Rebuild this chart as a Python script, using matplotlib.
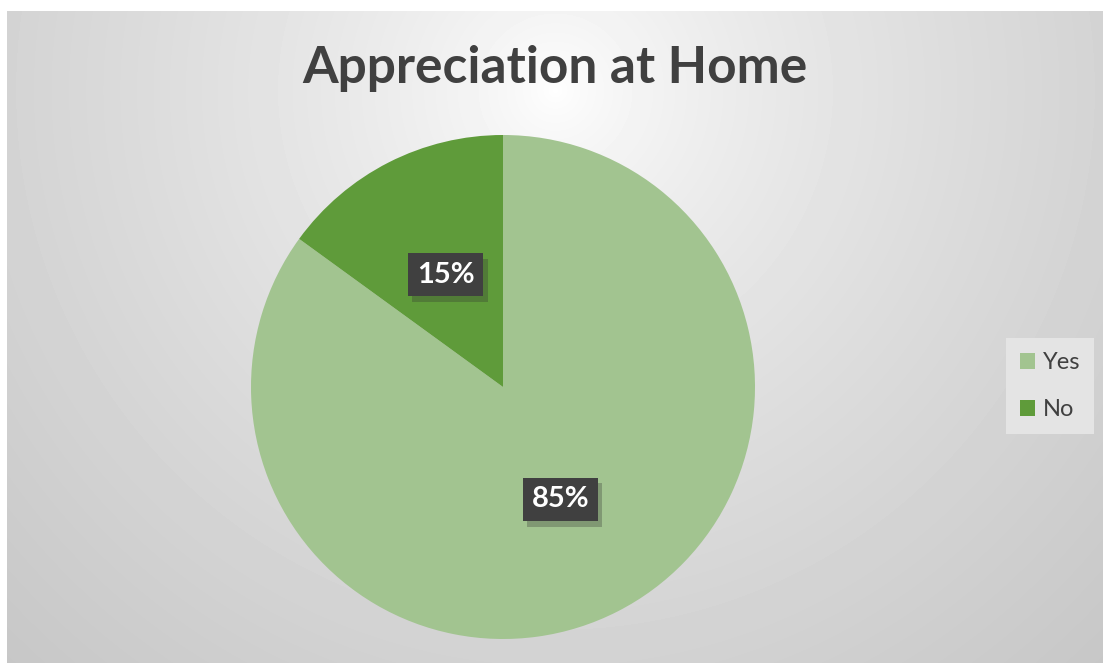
import numpy as np
import matplotlib
matplotlib.use("Agg")
import matplotlib.pyplot as plt
import matplotlib.patheffects as pe
from matplotlib.patches import Patch

labels = ["Yes", "No"]
shares = [85, 15]
colors = ["#A2C490", "#5F9B3A"]
title = "Appreciation at Home"

W, H = 1103, 663
fig = plt.figure(figsize=(W / 100, H / 100), dpi=100)
fig.patch.set_facecolor("white")

# soft radial grey background, white near the title
bg = fig.add_axes([7 / W, 0, (W - 7) / W, (H - 11) / H])
bg.set_axis_off()
yy, xx = np.mgrid[11:H, 7:W]
d = np.hypot(xx - 555, yy - 90) / 793.0
shade = 1.0 - 0.22 * d ** 0.7
bg.imshow(shade, cmap="gray", vmin=0, vmax=1, aspect="auto",
          extent=[0, 1, 0, 1], origin="upper")
bg.set_xlim(0, 1)
bg.set_ylim(0, 1)

cx, cy, r = 503, 387, 252
ax = fig.add_axes([(cx - r) / W, (H - cy - r) / H, 2 * r / W, 2 * r / H])
wedges, texts, autotexts = ax.pie(
    shares, colors=colors, startangle=90, counterclock=False,
    autopct="%d%%", pctdistance=0.5, radius=1,
    wedgeprops=dict(linewidth=0),
    textprops=dict(color="white", fontsize=21, fontweight="bold", family="Lato"),
)
ax.set_xlim(-1, 1)
ax.set_ylim(-1, 1)
for t in autotexts:
    t.set_bbox(dict(boxstyle="square,pad=0.3", facecolor="#404040", edgecolor="none"))
    t.get_bbox_patch().set_path_effects(
        [pe.SimplePatchShadow(offset=(3, -4), shadow_rgbFace="#333333", alpha=0.3),
         pe.Normal()])

fig.text(555 / W, 1 - 68 / H, title, ha="center", va="center",
         fontsize=37, fontweight="bold", color="#404040", family="Lato")

handles = [Patch(facecolor=c, edgecolor="none") for c in colors]
leg = fig.legend(handles, labels, loc="center", bbox_to_anchor=(1050 / W, 1 - 386 / H),
                 frameon=True, fancybox=False, facecolor="#E4E4E4", edgecolor="none",
                 framealpha=1, handlelength=0.65, handleheight=0.65, handletextpad=0.3,
                 labelspacing=1.1, borderpad=0.6,
                 prop=dict(family="Lato", size=17))
for t in leg.get_texts():
    t.set_color("#404040")

fig.savefig("out.png", dpi=100)
